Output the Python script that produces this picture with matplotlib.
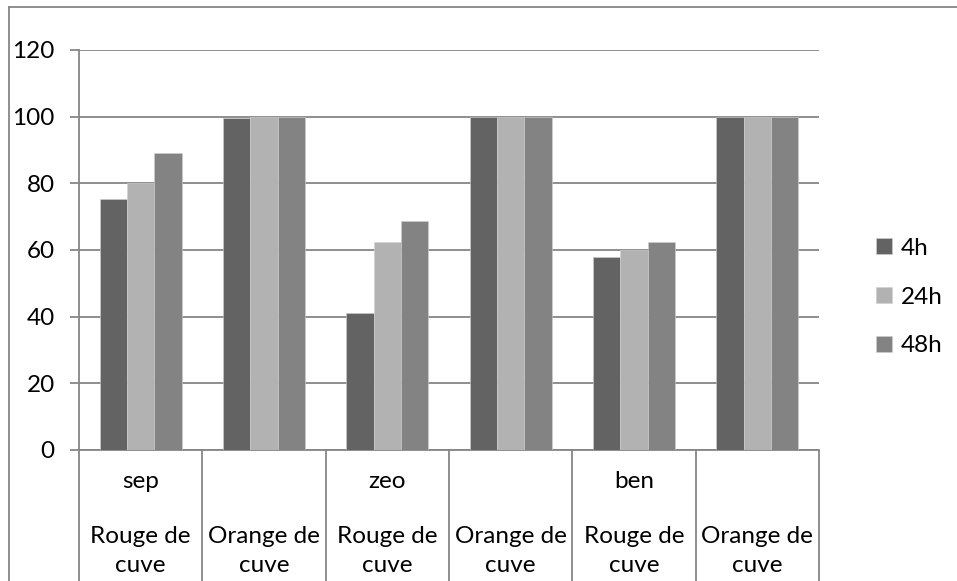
import matplotlib.pyplot as plt
import numpy as np

# produits / colorants
groupes = ['sep', 'zeo', 'ben']
colorants = ['Rouge de\ncuve', 'Orange de\ncuve'] * 3
series = ['4h', '24h', '48h']
v_4h = [75.3, 99.5, 41.2, 100, 58.0, 100]
v_24h = [80.0, 100, 62.3, 100, 60.0, 100]
v_48h = [89.0, 100, 68.8, 100, 62.3, 100]
couleurs = ['#636363', '#b2b2b2', '#838383']

plt.rcParams['font.family'] = ['Lato', 'DejaVu Sans']
W, H = 957, 581
fig = plt.figure(figsize=(W / 100, H / 100), dpi=100)
ax = fig.add_axes([79 / W, 1 - 450 / H, (819 - 79) / W, 400 / H])

x = np.arange(len(colorants))
larg = 1 / 4.5
for i, (vals, c) in enumerate(zip([v_4h, v_24h, v_48h], couleurs)):
    ax.bar(x + (i - 1) * larg, vals, larg, color=c, label=series[i],
           edgecolor='#d0d0d0', linewidth=0.4, zorder=3)

gris = '#868686'
fs = 17.5
ax.set_xlim(-0.5, len(colorants) - 0.5)
ax.set_ylim(0, 120)
ax.set_yticks(range(0, 121, 20))
ax.yaxis.grid(True, color=gris, linewidth=1.3, zorder=0)
for s in ['top', 'right']:
    ax.spines[s].set_visible(False)
for s in ['left', 'bottom']:
    ax.spines[s].set_color(gris)
    ax.spines[s].set_linewidth(1.3)
ax.tick_params(axis='y', length=6.5, width=1.3, color=gris, pad=11, labelsize=fs)

# séparateurs de catégories
ax.set_xticks(np.arange(len(colorants) + 1) - 0.5, minor=True)
ax.tick_params(axis='x', which='minor', length=96, width=1.3, color=gris)
ax.set_xticks(x)
ax.set_xticklabels(colorants, fontsize=fs, linespacing=1.42)
ax.tick_params(axis='x', which='major', length=0, pad=55)
for j, g in enumerate(groupes):
    ax.text(2 * j, -32 / 400, g, transform=ax.get_xaxis_transform(),
            ha='center', va='center', fontsize=fs)

ax.legend(loc='center left', bbox_to_anchor=(1.048, 0.3825), frameon=False,
          fontsize=fs, handlelength=0.65, handleheight=0.65, handletextpad=0.35,
          labelspacing=1.15)

# cadre du graphique
fig.add_artist(plt.Line2D([9 / W, 1], [1 - 7 / H] * 2, color=gris, lw=1.3))
fig.add_artist(plt.Line2D([9 / W] * 2, [0, 1 - 7 / H], color=gris, lw=1.3))

fig.savefig('out.png', dpi=100)
